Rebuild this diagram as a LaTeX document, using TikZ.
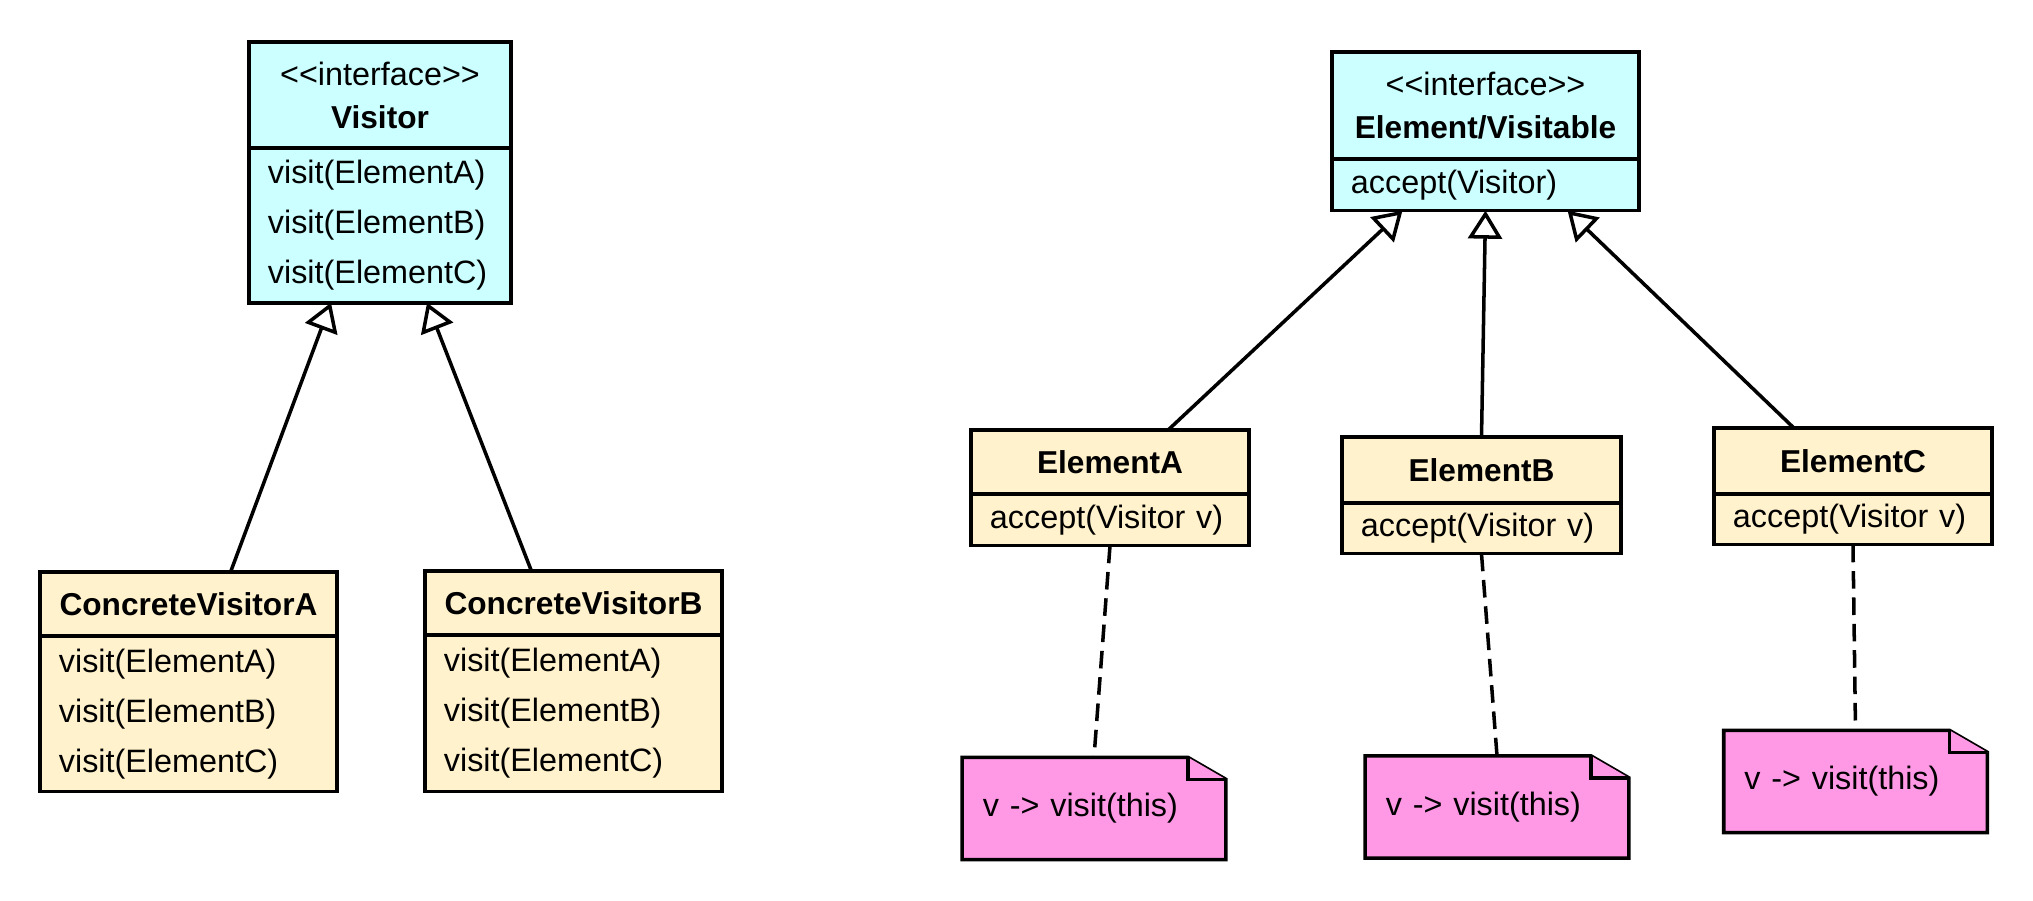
\documentclass[tikz,border=0pt]{standalone}
\usepackage{fontspec}
\setmainfont{Liberation Sans}
\usetikzlibrary{arrows.meta,positioning,backgrounds}
\definecolor{IfaceClr}{RGB}{204,255,255}
\definecolor{ClassClr}{RGB}{255,242,204}
\definecolor{NoteClr}{RGB}{255,153,230}

\tikzset{
  head/.style={draw,line width=0.5pt,inner sep=0pt,align=center,
    font=\fontsize{9.2}{12.2}\selectfont},
  ops/.style={draw,line width=0.5pt,inner xsep=0.18cm,inner ysep=0pt,align=left,
    font=\fontsize{9.2}{14.2}\selectfont},
  frame/.style={draw,line width=1pt},
  inherit/.style={line width=1pt,-{Triangle[open,length=0.28cm,width=0.34cm]}},
  realize/.style={line width=1pt,dash pattern=on 5pt off 2.5pt},
  note/.style={inner xsep=0.2cm,align=left,minimum width=2.62cm,minimum height=1.01cm,
    text width=2.22cm,font=\fontsize{9.2}{12}\selectfont},
  notebody/.style={line width=1pt,fill=NoteClr}
}

\begin{document}
\begin{tikzpicture}[x=0.01cm,y=-0.01cm]
\useasboundingbox (0,0) rectangle (2033,901);

% visitor hierarchy
\node[head,fill=IfaceClr,minimum width=2.6cm,minimum height=1.04cm] (Vis) at (380,95) {<{}<interface>{}>\\{\fontsize{9}{12.2}\selectfont\bfseries Visitor}};
\node[ops,fill=IfaceClr,text width=2.24cm,minimum height=1.53cm,below=0pt of Vis] (VisOps) {visit(ElementA)\\visit(ElementB)\\visit(ElementC)};

\node[head,fill=ClassClr,minimum width=2.95cm,minimum height=0.62cm,font=\fontsize{9}{12}\selectfont\bfseries] (CVA) at (188.5,604) {ConcreteVisitorA};
\node[ops,fill=ClassClr,text width=2.59cm,minimum height=1.54cm,below=0pt of CVA] (CVAOps) {visit(ElementA)\\visit(ElementB)\\visit(ElementC)};

\node[head,fill=ClassClr,minimum width=2.95cm,minimum height=0.62cm,font=\fontsize{9}{12}\selectfont\bfseries] (CVB) at (573.5,603) {ConcreteVisitorB};
\node[ops,fill=ClassClr,text width=2.59cm,minimum height=1.55cm,below=0pt of CVB] (CVBOps) {visit(ElementA)\\visit(ElementB)\\visit(ElementC)};

% element hierarchy
\node[head,fill=IfaceClr,minimum width=3.05cm,minimum height=1.05cm] (Elem) at (1485.5,105.5) {<{}<interface>{}>\\{\fontsize{9}{12.2}\selectfont\bfseries Element/Visitable}};
\node[ops,fill=IfaceClr,text width=2.69cm,minimum height=0.5cm,below=0pt of Elem] (ElemOps) {accept(Visitor)};

\node[head,fill=ClassClr,minimum width=2.76cm,minimum height=0.62cm,font=\fontsize{9}{12}\selectfont\bfseries] (EA) at (1110,462) {ElementA};
\node[ops,fill=ClassClr,text width=2.4cm,minimum height=0.5cm,below=0pt of EA] (EAOps) {accept(Visitor v)};

\node[head,fill=ClassClr,minimum width=2.77cm,minimum height=0.64cm,font=\fontsize{9}{12}\selectfont\bfseries] (EB) at (1481.5,470) {ElementB};
\node[ops,fill=ClassClr,text width=2.41cm,minimum height=0.49cm,below=0pt of EB] (EBOps) {accept(Visitor v)};

\node[head,fill=ClassClr,minimum width=2.76cm,minimum height=0.64cm,font=\fontsize{9}{12}\selectfont\bfseries] (EC) at (1853,461) {ElementC};
\node[ops,fill=ClassClr,text width=2.4cm,minimum height=0.49cm,below=0pt of EC] (ECOps) {accept(Visitor v)};

% notes
\node[note] (NA) at (1094,808.5) {v -> visit(this)};
\node[note] (NB) at (1497,807) {v -> visit(this)};
\node[note] (NC) at (1855.5,781.5) {v -> visit(this)};

\begin{scope}[on background layer]
\foreach \n in {NA,NB,NC}{
  \draw[notebody] (\n.north west) -- ([xshift=-0.38cm]\n.north east) -- ([yshift=-0.22cm]\n.north east)
    -- (\n.south east) -- (\n.south west) -- cycle;
  \draw[notebody] ([xshift=-0.38cm]\n.north east) -- ([xshift=-0.38cm,yshift=-0.22cm]\n.north east)
    -- ([yshift=-0.22cm]\n.north east);
}
\end{scope}

\foreach \c in {Vis,CVA,CVB,Elem,EA,EB,EC}
  \draw[frame] (\c.north west) rectangle (\c Ops.south east);

\draw[inherit] ([xshift=0.42cm]CVA.north) -- ([xshift=-0.49cm]VisOps.south);
\draw[inherit] ([xshift=-0.42cm]CVB.north) -- ([xshift=0.47cm]VisOps.south);

\draw[inherit] ([xshift=0.58cm]EA.north) -- ([xshift=-0.83cm]ElemOps.south);
\draw[inherit] (EB.north) -- (ElemOps.south);
\draw[inherit] ([xshift=-0.59cm]EC.north) -- ([xshift=0.82cm]ElemOps.south);

\draw[realize] (EAOps.south) -- (NA.north);
\draw[realize] (EBOps.south) -- (NB.north);
\draw[realize] (ECOps.south) -- (NC.north);

\end{tikzpicture}
\end{document}
